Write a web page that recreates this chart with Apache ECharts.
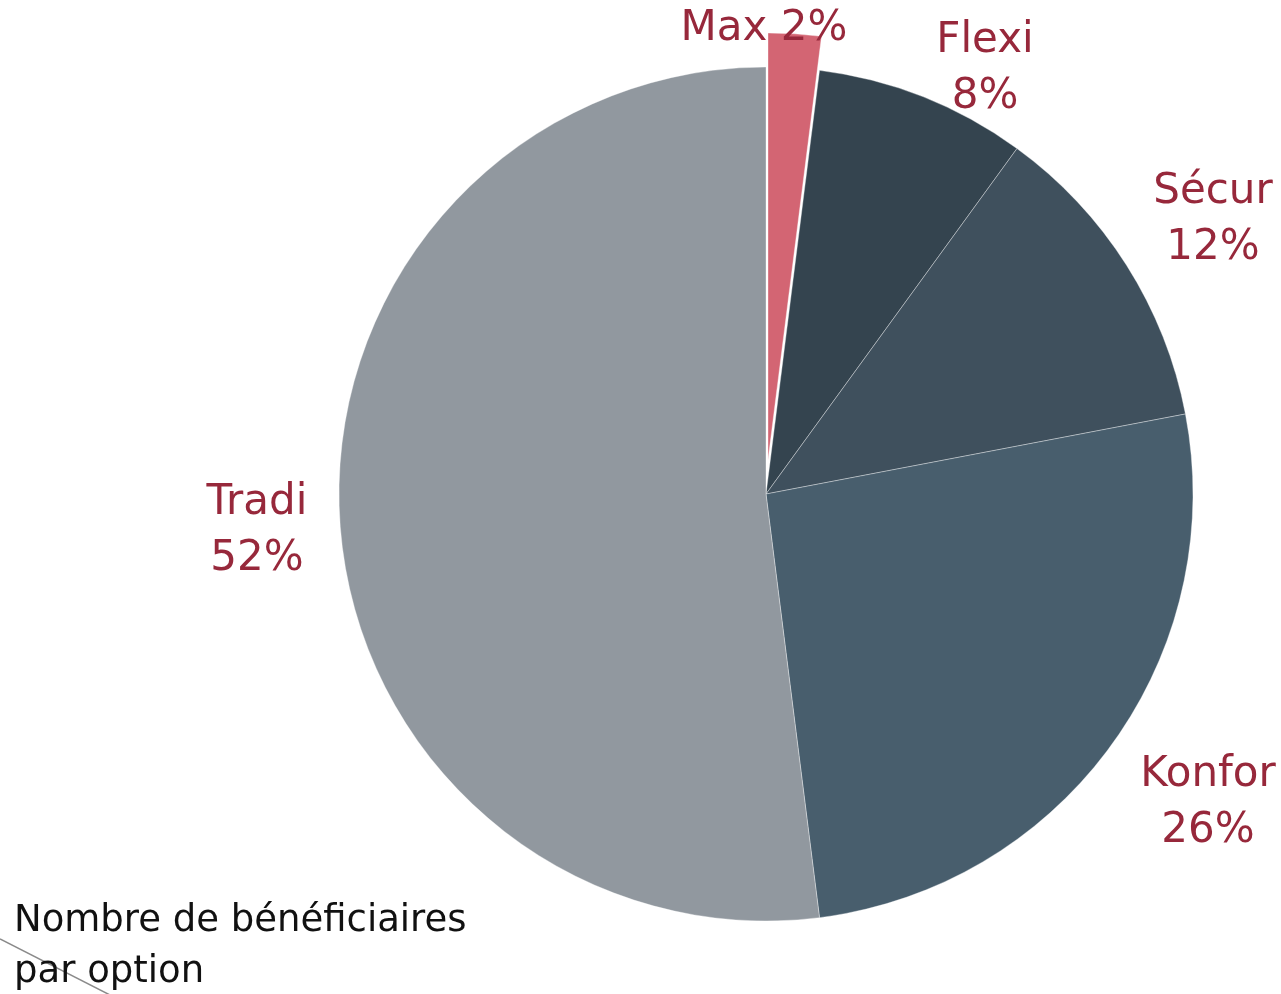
<!DOCTYPE html>
<html>
<head>
<meta charset="utf-8">
<script src="https://cdn.jsdelivr.net/npm/echarts@6/dist/echarts.min.js"></script>
<style>
  html, body { margin: 0; padding: 0; background: #fff; }
  #chart { width: 1281px; height: 994px; }
</style>
</head>
<body>
<div id="chart"></div>
<script>
// options, clockwise from 12 o'clock
var optionNames = ['Max', 'Flexi', 'Sécur', 'Konfor', 'Tradi']
var optionShares = [2, 8, 12, 26, 52]
var sliceColors = ['#d36573', '#34444f', '#3f505d', '#485e6d', '#91989f']
var pulledOut = [true, false, false, false, false]

// label centres (x, y) in px
var labelSpots = [[764, 29], [985, 69], [1213, 220], [1208, 803], [257, 531]]

var chart = echarts.init(document.getElementById('chart'))

// one pie for the resting slices, one for the pulled-out slice
function buildData(wantPulled) {
  return optionNames.map(function (name, i) {
    var shown = pulledOut[i] === wantPulled
    return {
      name: name,
      value: optionShares[i],
      itemStyle: shown ? { color: sliceColors[i] } : { color: 'transparent', borderWidth: 0 },
      label: { show: shown }
    }
  })
}

var baseSeries = {
  type: 'pie',
  radius: [0, 427],
  startAngle: 90,
  clockwise: true,
  silent: true,
  emphasis: { disabled: true },
  itemStyle: { borderColor: 'rgba(255,255,255,0.35)', borderWidth: 1 },
  labelLine: { show: false },
  label: {
    show: true,
    position: 'outside',
    alignTo: 'none',
    overflow: 'none',
    width: 300,
    color: '#97283b',
    fontFamily: 'DejaVu Sans',
    fontSize: 42,
    lineHeight: 56,
    align: 'center',
    formatter: function (p) {
      return pulledOut[p.dataIndex] ? p.name + ' ' + p.value + '%' : p.name + '\n' + p.value + '%'
    }
  },
  labelLayout: function (p) {
    var s = labelSpots[p.dataIndex]
    return { x: s[0], y: s[1], align: 'center', verticalAlign: 'middle', hideOverlap: false }
  }
}

var option = {
  animation: false,
  graphic: [
    {
      type: 'line',
      shape: { x1: 0, y1: 939, x2: 112, y2: 996 },
      style: { stroke: '#8a8a8a', lineWidth: 1.5 }
    },
    {
      type: 'text',
      left: 14,
      top: 896,
      style: {
        text: 'Nombre de bénéficiaires\npar option',
        font: '37px "DejaVu Sans"',
        lineHeight: 51,
        fill: '#111'
      }
    }
  ],
  series: [
    Object.assign({}, baseSeries, { center: [766, 494], data: buildData(false) }),
    // same pie, shifted 34px out along the Max slice's bisector
    Object.assign({}, baseSeries, { center: [768, 460], data: buildData(true) })
  ]
}

chart.setOption(option)
</script>
</body>
</html>
